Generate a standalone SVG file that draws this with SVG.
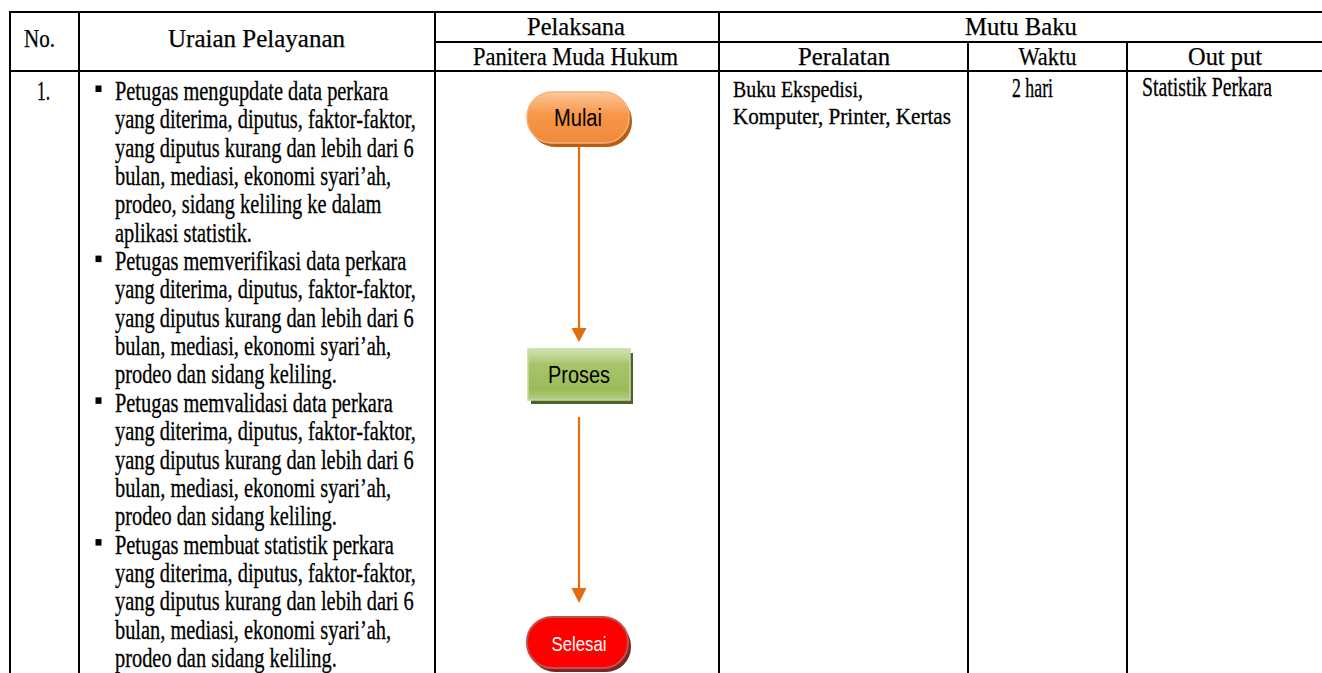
<svg xmlns="http://www.w3.org/2000/svg" width="1322" height="673" viewBox="0 0 1322 673">
<style>
.grid{stroke:#000;stroke-width:2;fill:none}
.hd{font-family:"Liberation Serif","Times New Roman",serif;font-size:25.5px;fill:#000;stroke:#000;stroke-width:0.25}
.bd{font-family:"Liberation Serif","Times New Roman",serif;font-size:27px;fill:#000;stroke:#000;stroke-width:0.3}
.bs{font-family:"Liberation Serif","Times New Roman",serif;font-size:24px;fill:#000;stroke:#000;stroke-width:0.3}
.sh{font-family:"Liberation Sans",Arial,sans-serif;text-anchor:middle}
.conn{stroke:#e46c0a;stroke-width:2.2;fill:none}
.ah{fill:#e46c0a}
</style>
<defs>
<linearGradient id="gOr" x1="0" y1="0" x2="0" y2="1">
<stop offset="0" stop-color="#fcc89b"/><stop offset="0.45" stop-color="#f79646"/><stop offset="1" stop-color="#ef8a3c"/>
</linearGradient>
<linearGradient id="gGr" x1="0" y1="0" x2="0" y2="1">
<stop offset="0" stop-color="#d3e2b4"/><stop offset="0.3" stop-color="#a8c46b"/><stop offset="0.8" stop-color="#9bbb59"/><stop offset="1" stop-color="#b5cd85"/>
</linearGradient>
</defs>
<rect width="1322" height="673" fill="#fff"/>
<g id="table">
<path class="grid" d="M9,12 H1322 M435,42 H1322 M9,71 H1322 M10,12 V673 M79,12 V673 M435,12 V673 M719,12 V673 M968,42 V673 M1127,42 V673"/>
<text class="hd" x="24" y="47" textLength="31" lengthAdjust="spacingAndGlyphs">No.</text>
<text class="hd" x="168" y="47" textLength="177" lengthAdjust="spacingAndGlyphs">Uraian Pelayanan</text>
<text class="hd" x="527" y="35" textLength="98" lengthAdjust="spacingAndGlyphs">Pelaksana</text>
<text class="hd" x="473" y="64.5" textLength="205" lengthAdjust="spacingAndGlyphs">Panitera Muda Hukum</text>
<text class="hd" x="965" y="35" textLength="112" lengthAdjust="spacingAndGlyphs">Mutu Baku</text>
<text class="hd" x="844" y="64.5" text-anchor="middle" textLength="92" lengthAdjust="spacingAndGlyphs">Peralatan</text>
<text class="hd" x="1047.5" y="64.5" text-anchor="middle" textLength="58" lengthAdjust="spacingAndGlyphs">Waktu</text>
<text class="hd" x="1225" y="64.5" text-anchor="middle" textLength="74" lengthAdjust="spacingAndGlyphs">Out put</text>
</g>
<g id="row1">
<text class="bd" x="37" y="100" textLength="13" lengthAdjust="spacingAndGlyphs">1.</text>
<g fill="#000">
<rect x="95.5" y="85.5" width="6" height="6.5"/>
<rect x="95.5" y="255.6" width="6" height="6.5"/>
<rect x="95.5" y="397.35" width="6" height="6.5"/>
<rect x="95.5" y="539.1" width="6" height="6.5"/>
</g>
<g transform="translate(115,0) scale(0.755,1)">
<text class="bd" y="100">
<tspan x="0">Petugas mengupdate data perkara</tspan>
<tspan x="0" dy="28.35">yang diterima, diputus, faktor-faktor,</tspan>
<tspan x="0" dy="28.35">yang diputus kurang dan lebih dari 6</tspan>
<tspan x="0" dy="28.35">bulan, mediasi, ekonomi syari’ah,</tspan>
<tspan x="0" dy="28.35">prodeo, sidang keliling ke dalam</tspan>
<tspan x="0" dy="28.35">aplikasi statistik.</tspan>
<tspan x="0" dy="28.35">Petugas memverifikasi data perkara</tspan>
<tspan x="0" dy="28.35">yang diterima, diputus, faktor-faktor,</tspan>
<tspan x="0" dy="28.35">yang diputus kurang dan lebih dari 6</tspan>
<tspan x="0" dy="28.35">bulan, mediasi, ekonomi syari’ah,</tspan>
<tspan x="0" dy="28.35">prodeo dan sidang keliling.</tspan>
<tspan x="0" dy="28.35">Petugas memvalidasi data perkara</tspan>
<tspan x="0" dy="28.35">yang diterima, diputus, faktor-faktor,</tspan>
<tspan x="0" dy="28.35">yang diputus kurang dan lebih dari 6</tspan>
<tspan x="0" dy="28.35">bulan, mediasi, ekonomi syari’ah,</tspan>
<tspan x="0" dy="28.35">prodeo dan sidang keliling.</tspan>
<tspan x="0" dy="28.35">Petugas membuat statistik perkara</tspan>
<tspan x="0" dy="28.35">yang diterima, diputus, faktor-faktor,</tspan>
<tspan x="0" dy="28.35">yang diputus kurang dan lebih dari 6</tspan>
<tspan x="0" dy="28.35">bulan, mediasi, ekonomi syari’ah,</tspan>
<tspan x="0" dy="28.35">prodeo dan sidang keliling.</tspan>
</text>
</g>
<text class="bs" x="733" y="97" textLength="130" lengthAdjust="spacingAndGlyphs">Buku Ekspedisi,</text>
<text class="bs" x="733" y="124" textLength="218" lengthAdjust="spacingAndGlyphs">Komputer, Printer, Kertas</text>
<text class="bd" x="1012" y="97" textLength="41" lengthAdjust="spacingAndGlyphs">2 hari</text>
<text class="bd" x="1142" y="96" textLength="130" lengthAdjust="spacingAndGlyphs">Statistik Perkara</text>
</g>
<g id="connectors">
<line class="conn" x1="579" y1="146" x2="579" y2="330"/>
<path class="ah" d="M571.5,328 L586.5,328 L579,342 Z"/>
<line class="conn" x1="579" y1="417" x2="579" y2="590"/>
<path class="ah" d="M571.5,588 L586.5,588 L579,603 Z"/>
</g>
<g id="node-mulai">
<rect x="530" y="96" width="102" height="51" rx="25" fill="#b85d12"/>
<rect x="527" y="92" width="102" height="51" rx="25" fill="url(#gOr)" stroke="#f9b077" stroke-width="1.5"/>
<text class="sh" x="578" y="126" font-size="23.5" textLength="48" lengthAdjust="spacingAndGlyphs" fill="#000">Mulai</text>
</g>
<g id="node-proses">
<rect x="531" y="353" width="102" height="51" fill="#4f6228"/>
<rect x="528" y="349" width="102" height="51" fill="url(#gGr)" stroke="#c6d9a0" stroke-width="1.5"/>
<text class="sh" x="579" y="383" font-size="24.5" textLength="62" lengthAdjust="spacingAndGlyphs" fill="#000">Proses</text>
</g>
<g id="node-selesai">
<rect x="530" y="621" width="101" height="51" rx="25" fill="#7a2624"/>
<rect x="527" y="617" width="101" height="51" rx="25" fill="#ff0000" stroke="#c0504d" stroke-width="2"/>
<text class="sh" x="579" y="651" font-size="21" textLength="55" lengthAdjust="spacingAndGlyphs" fill="#fff">Selesai</text>
</g>
</svg>
